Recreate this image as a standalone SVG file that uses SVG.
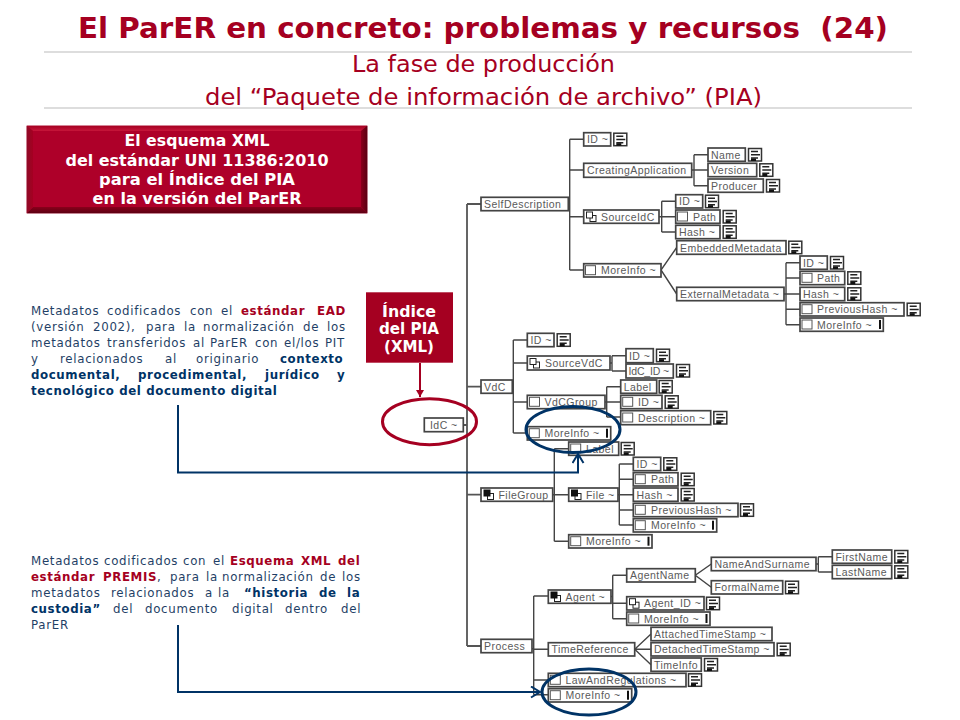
<svg xmlns="http://www.w3.org/2000/svg" width="960" height="720" viewBox="0 0 960 720">
<style>
.b{fill:#fff;stroke:#444;stroke-width:1.7}
.l{font-family:"Liberation Sans",Arial,sans-serif;font-size:10.5px;letter-spacing:.45px;fill:#5a5a5a}
.c{fill:none;stroke:#444;stroke-width:1.4}
.tr{fill:none;stroke:#555;stroke-width:1.8}
.p{font-family:"DejaVu Sans",Verdana,sans-serif;font-size:11.8px;letter-spacing:.7px;fill:#1f3f66}
.p tspan.r{font-weight:bold;fill:#a50021;letter-spacing:.6px}
.p tspan.k{font-weight:bold;fill:#003366;letter-spacing:.6px}
.w{font-family:"DejaVu Sans",Verdana,sans-serif;font-weight:bold;fill:#fff;text-anchor:middle}
.h{font-family:"DejaVu Sans",Tahoma,sans-serif;fill:#a50021}
</style>
<defs>
<g id="doc"><rect x=".5" y=".5" width="13" height="12.5" fill="#fff" stroke="#333" stroke-width="1.5"/><path d="M3 3.5h7M3 6.8h9M3 10h7" stroke="#222" stroke-width="1.5" fill="none"/><rect x="3" y="10.5" width="5" height="2.5" fill="#111"/></g>
<rect id="chk" width="10" height="9" fill="#fff" stroke="#555" stroke-width="1"/>
<g id="cpy"><rect x="3.5" y="3.5" width="6" height="6" fill="#fff" stroke="#222" stroke-width="1"/><rect width="6" height="6" fill="#fff" stroke="#222" stroke-width="1"/></g>
<g id="cpf"><rect x="3.5" y="3.5" width="6" height="6" fill="#fff" stroke="#222" stroke-width="1"/><rect width="6" height="6" fill="#111" stroke="#111" stroke-width="1"/></g>
<rect id="bar" width="2" height="9" fill="#111"/>
<marker id="mb" markerWidth="14" markerHeight="14" refX="10" refY="6" orient="auto" markerUnits="userSpaceOnUse"><path d="M1 0.5L10 6L1 11.5" fill="none" stroke="#003366" stroke-width="2"/></marker>
<marker id="mr" markerWidth="10" markerHeight="10" refX="7" refY="4" orient="auto" markerUnits="userSpaceOnUse"><path d="M0 0L7 4L0 8z" fill="#a50021"/></marker>
<linearGradient id="bt" x1="0" y1="0" x2="0" y2="1"><stop offset="0" stop-color="#a50021"/><stop offset="1" stop-color="#c6163a"/></linearGradient>
<linearGradient id="bb" x1="0" y1="0" x2="0" y2="1"><stop offset="0" stop-color="#8a001b"/><stop offset="1" stop-color="#5a0012"/></linearGradient>
<linearGradient id="bl" x1="0" y1="0" x2="1" y2="0"><stop offset="0" stop-color="#8f0a26"/><stop offset="1" stop-color="#a50021"/></linearGradient>
<linearGradient id="br" x1="0" y1="0" x2="1" y2="0"><stop offset="0" stop-color="#8a001b"/><stop offset="1" stop-color="#5a0012"/></linearGradient>
</defs>
<rect width="960" height="720" fill="#fff"/>
<g id="header">
<text class="h" x="78" y="37.5" font-size="29" font-weight="bold" textLength="810" lengthAdjust="spacingAndGlyphs" xml:space="preserve">El ParER en concreto: problemas y recursos  (24)</text>
<path d="M44 52H912M44 108H912" stroke="#bbb" stroke-width="1"/>
<text class="h" x="352" y="72" font-size="22.5" textLength="263" lengthAdjust="spacingAndGlyphs">La fase de producción</text>
<text class="h" x="205" y="105" font-size="22.5" textLength="557" lengthAdjust="spacingAndGlyphs">del “Paquete de información de archivo” (PIA)</text>
</g>
<g id="schema-box">
<rect x="26.7" y="125.7" width="340.6" height="87.6" fill="#ae0029"/>
<polygon points="26.7,125.7 367.3,125.7 361,131 33,131" fill="url(#bt)"/>
<polygon points="26.7,213.3 367.3,213.3 361,207 33,207" fill="url(#bb)"/>
<polygon points="26.7,125.7 33,131 33,207 26.7,213.3" fill="url(#bl)"/>
<polygon points="367.3,125.7 361,131 361,207 367.3,213.3" fill="url(#br)"/>
<text class="w" x="197" y="146" font-size="16" textLength="145" lengthAdjust="spacingAndGlyphs">El esquema XML</text>
<text class="w" x="197" y="165.5" font-size="16" textLength="263" lengthAdjust="spacingAndGlyphs">del estándar UNI 11386:2010</text>
<text class="w" x="197" y="184.5" font-size="16" textLength="196" lengthAdjust="spacingAndGlyphs">para el Índice del PIA</text>
<text class="w" x="197" y="203.5" font-size="16" textLength="209" lengthAdjust="spacingAndGlyphs">en la versión del ParER</text>
</g>
<g id="index-box">
<rect x="366" y="292.3" width="87" height="70.4" fill="#a50021"/>
<text class="w" x="409" y="317" font-size="15" textLength="54" lengthAdjust="spacingAndGlyphs">Índice</text>
<text class="w" x="409" y="334" font-size="15" textLength="60" lengthAdjust="spacingAndGlyphs">del PIA</text>
<text class="w" x="409" y="352" font-size="15" textLength="50" lengthAdjust="spacingAndGlyphs">(XML)</text>
</g>
<g id="note-ead">
<text class="p" y="315"><tspan x="31">Metadatos </tspan><tspan x="107">codificados </tspan><tspan x="190">con </tspan><tspan x="221">el </tspan><tspan class="r" x="241">estándar </tspan><tspan class="r" x="317">EAD</tspan></text>
<text class="p" y="331"><tspan x="31">(versión </tspan><tspan x="93">2002), </tspan><tspan x="146">para </tspan><tspan x="184">la </tspan><tspan x="203">normalización </tspan><tspan x="303">de </tspan><tspan x="327">los</tspan></text>
<text class="p" y="347"><tspan x="31">metadatos </tspan><tspan x="107">transferidos </tspan><tspan x="193">al </tspan><tspan x="210">ParER </tspan><tspan x="255">con </tspan><tspan x="284">el/los </tspan><tspan x="325">PIT</tspan></text>
<text class="p" y="363"><tspan x="31">y </tspan><tspan x="60">relacionados </tspan><tspan x="165">al </tspan><tspan x="196">originario </tspan><tspan class="k" x="280">contexto</tspan></text>
<text class="p" y="379"><tspan class="k" x="31">documental, </tspan><tspan class="k" x="138">procedimental, </tspan><tspan class="k" x="265">jurídico </tspan><tspan class="k" x="337">y</tspan></text>
<text class="p" y="395"><tspan class="k" x="31">tecnológico del documento digital</tspan></text>
</g>
<g id="note-premis">
<text class="p" y="565"><tspan x="31">Metadatos </tspan><tspan x="104">codificados </tspan><tspan x="183">con </tspan><tspan x="213">el </tspan><tspan class="r" x="230">Esquema </tspan><tspan class="r" x="301">XML </tspan><tspan class="r" x="338">del</tspan></text>
<text class="p" y="581"><tspan class="r" x="31">estándar </tspan><tspan class="r" x="103">PREMIS</tspan><tspan>, </tspan><tspan x="170">para </tspan><tspan x="206">la </tspan><tspan x="222">normalización </tspan><tspan x="320">de </tspan><tspan x="342">los</tspan></text>
<text class="p" y="597"><tspan x="31">metadatos </tspan><tspan x="111">relacionados </tspan><tspan x="205">a </tspan><tspan x="218">la </tspan><tspan class="k" x="244">“historia </tspan><tspan class="k" x="319">de </tspan><tspan class="k" x="347">la</tspan></text>
<text class="p" y="613"><tspan class="k" x="31">custodia” </tspan><tspan x="113">del </tspan><tspan x="145">documento </tspan><tspan x="232">digital </tspan><tspan x="285">dentro </tspan><tspan x="341">del</tspan></text>
<text class="p" y="629"><tspan x="31">ParER</tspan></text>
</g>
<g id="connectors">
<path class="tr" d="M467 204V646M467 204H481M467 646H481M463 425H467M467 386.7H481M467 494.7H481"/>
<path class="c" d="M568.3 204H569.7M569.7 139.3V270M569.7 139.3H583.7M569.7 170H583.7M569.7 216.7H583.7M569.7 270H583.7"/>
<path class="c" d="M691.7 170H708M694 154.7V185.7M694 154.7H708M694 185.7H708"/>
<path class="c" d="M659 216.7H675.7M661.7 201.3V232M661.7 201.3H675.7M661.7 232H675.7"/>
<path class="c" d="M676.7 247.5L661 270L676.7 294"/>
<path class="c" d="M784 294H800M786 262.7V324.7M786 262.7H800M786 278H800M786 309.3H800M786 324.7H800"/>
<path class="c" d="M512.3 386.7H513.3M513.3 340V433M513.3 340H527.3M513.3 363H527.3M513.3 402H527.3M513.3 433H527.3"/>
<path class="c" d="M610 363H612M612 355.7V371M612 355.7H626M612 371H626"/>
<path class="c" d="M605 402H620.7M606.7 386.7V417M606.7 386.7H620.7M606.7 417H620.7"/>
<path class="c" d="M552.7 494.7H568.7M554.3 448.7V541.3M554.3 448.7H568.7M554.3 541.3H568.7"/>
<path class="c" d="M618 494.7H633.3M619.3 464V525M619.3 464H633.3M619.3 479.3H633.3M619.3 510H633.3M619.3 525H633.3"/>
<path class="c" d="M532 648.7H533.7M533.7 596V694.7M533.7 596H548.3M533.7 649.3H548.3M533.7 680H548.3M533.7 694.7H548.3"/>
<path class="c" d="M611 596.5H612.7M612.7 575.3V618.7M612.7 575.3H626.7M612.7 603.3H626.7M612.7 618.7H626.7"/>
<path class="c" d="M711.3 564L695.3 575.3L711.3 587.3"/>
<path class="c" d="M816 564H818.3M818.3 556.7V572M818.3 556.7H832.3M818.3 572H832.3"/>
<path class="c" d="M651 634L634.7 649.3H651M634.7 649.3L651 664.7"/>
</g>
<g id="node-idc"><rect class="b" x="424.3" y="418" width="39" height="13.7"/><text class="l" x="430" y="428.5">IdC ~</text></g>
<g id="node-selfdescription"><rect class="b" x="481" y="197.3" width="87.3" height="13.4"/><text class="l" x="484" y="207.7">SelfDescription</text></g>
<g id="node-sd-id"><rect class="b" x="583.7" y="132.7" width="27" height="13.3"/><text class="l" x="587" y="143">ID ~</text><use href="#doc" x="613.3" y="132.7"/></g>
<g id="node-creatingapplication"><rect class="b" x="583.7" y="163.3" width="108" height="14"/><text class="l" x="587" y="174">CreatingApplication</text></g>
<g id="node-name"><rect class="b" x="708" y="148" width="37.3" height="13.3"/><text class="l" x="711" y="158.5">Name</text><use href="#doc" x="748" y="148"/></g>
<g id="node-version"><rect class="b" x="708" y="163.3" width="48.7" height="13.4"/><text class="l" x="711" y="174">Version</text><use href="#doc" x="759.3" y="163.3"/></g>
<g id="node-producer"><rect class="b" x="708" y="179" width="55.3" height="13.3"/><text class="l" x="711" y="189.5">Producer</text><use href="#doc" x="766" y="179"/></g>
<g id="node-sourceidc"><rect class="b" x="583.7" y="210" width="75.3" height="13.3"/><use href="#cpy" x="586.5" y="212"/><text class="l" x="601" y="220.5">SourceIdC</text></g>
<g id="node-sid-id"><rect class="b" x="675.7" y="194.7" width="27" height="13.3"/><text class="l" x="679" y="205">ID ~</text><use href="#doc" x="705" y="194.7"/></g>
<g id="node-sid-path"><rect class="b" x="675.7" y="210" width="44.3" height="13.3"/><use href="#chk" x="677.5" y="212"/><text class="l" x="693" y="220.5">Path</text><use href="#doc" x="722.7" y="210"/></g>
<g id="node-sid-hash"><rect class="b" x="675.7" y="225.3" width="44.3" height="13.4"/><text class="l" x="679" y="236">Hash ~</text><use href="#doc" x="722.7" y="225.3"/></g>
<g id="node-moreinfo-sd"><rect class="b" x="583.7" y="263.7" width="77.3" height="13.3"/><use href="#chk" x="585.5" y="265.7"/><text class="l" x="601" y="274">MoreInfo ~</text></g>
<g id="node-embeddedmetadata"><rect class="b" x="676.7" y="240.7" width="109.3" height="13.6"/><text class="l" x="680" y="251.5">EmbeddedMetadata</text><use href="#doc" x="788.3" y="240.7"/></g>
<g id="node-externalmetadata"><rect class="b" x="676.7" y="287.3" width="107.3" height="13.4"/><text class="l" x="680" y="298">ExternalMetadata ~</text></g>
<g id="node-em-id"><rect class="b" x="800" y="256" width="27.3" height="13.3"/><text class="l" x="803" y="266.5">ID ~</text><use href="#doc" x="830" y="256"/></g>
<g id="node-em-path"><rect class="b" x="800" y="271.3" width="44.7" height="13.4"/><use href="#chk" x="802" y="273.3"/><text class="l" x="817" y="282">Path</text><use href="#doc" x="847.3" y="271.3"/></g>
<g id="node-em-hash"><rect class="b" x="800" y="287.3" width="44.7" height="13.4"/><text class="l" x="803" y="298">Hash ~</text><use href="#doc" x="847.3" y="287.3"/></g>
<g id="node-em-previoushash"><rect class="b" x="800" y="302.7" width="104" height="13.3"/><use href="#chk" x="802" y="304.7"/><text class="l" x="817" y="313">PreviousHash ~</text><use href="#doc" x="906.7" y="302.7"/></g>
<g id="node-em-moreinfo"><rect class="b" x="800" y="318" width="83.3" height="13.3"/><use href="#chk" x="802" y="320"/><text class="l" x="817" y="328.5">MoreInfo ~</text><use href="#bar" x="879" y="320"/></g>
<g id="node-vdc"><rect class="b" x="481" y="380" width="31.3" height="13.3"/><text class="l" x="484" y="390.5">VdC</text></g>
<g id="node-vdc-id"><rect class="b" x="527.3" y="333.3" width="26.7" height="13.4"/><text class="l" x="530.5" y="344">ID ~</text><use href="#doc" x="556.7" y="333.3"/></g>
<g id="node-sourcevdc"><rect class="b" x="527.3" y="356" width="82.7" height="14"/><use href="#cpy" x="530" y="358.5"/><text class="l" x="545" y="367">SourceVdC</text></g>
<g id="node-svdc-id"><rect class="b" x="626" y="348.7" width="27.3" height="14"/><text class="l" x="629" y="359.5">ID ~</text><use href="#doc" x="656" y="348.7"/></g>
<g id="node-idc-id"><rect class="b" x="626" y="364" width="47.3" height="14"/><text class="l" x="628.5" y="375" textLength="41">IdC_ID ~</text><use href="#doc" x="676" y="364"/></g>
<g id="node-vdcgroup"><rect class="b" x="527.3" y="395.3" width="77.7" height="13.4"/><use href="#chk" x="529.5" y="397.3"/><text class="l" x="544.5" y="406">VdCGroup</text></g>
<g id="node-vg-label"><rect class="b" x="620.7" y="380" width="36" height="13.3"/><text class="l" x="623.7" y="390.5">Label</text><use href="#doc" x="658.7" y="380"/></g>
<g id="node-vg-id"><rect class="b" x="620.7" y="395.3" width="41.3" height="13.4"/><use href="#chk" x="622.7" y="397.3"/><text class="l" x="638" y="406">ID ~</text><use href="#doc" x="664.7" y="395.3"/></g>
<g id="node-vg-description"><rect class="b" x="620.7" y="410.7" width="90" height="14"/><use href="#chk" x="622.7" y="413"/><text class="l" x="638" y="421.5">Description ~</text><use href="#doc" x="713.3" y="411"/></g>
<g id="node-vdc-moreinfo"><rect class="b" x="527.3" y="426.7" width="83.4" height="13.3"/><use href="#chk" x="529.3" y="428.7"/><text class="l" x="544.5" y="437">MoreInfo ~</text><use href="#bar" x="606" y="428.7"/></g>
<g id="node-filegroup"><rect class="b" x="481" y="488" width="71.7" height="13.3"/><use href="#cpf" x="484" y="490"/><text class="l" x="498.5" y="498.5">FileGroup</text></g>
<g id="node-fg-label"><rect class="b" x="568.7" y="442" width="50" height="13.3"/><use href="#chk" x="570.7" y="444"/><text class="l" x="586" y="452.5">Label</text><use href="#doc" x="620.7" y="442"/></g>
<g id="node-file"><rect class="b" x="568.7" y="488" width="49.3" height="13.3"/><use href="#cpf" x="571.5" y="490"/><text class="l" x="586" y="498.5">File ~</text></g>
<g id="node-fg-moreinfo"><rect class="b" x="568.7" y="534.7" width="83.3" height="13.3"/><use href="#chk" x="570.7" y="536.7"/><text class="l" x="586" y="545">MoreInfo ~</text><use href="#bar" x="647.5" y="536.7"/></g>
<g id="node-file-id"><rect class="b" x="633.3" y="457.3" width="27.4" height="13.4"/><text class="l" x="636.5" y="468">ID ~</text><use href="#doc" x="663.3" y="457.3"/></g>
<g id="node-file-path"><rect class="b" x="633.3" y="472.7" width="44.7" height="13.3"/><use href="#chk" x="635.3" y="474.7"/><text class="l" x="651" y="483">Path</text><use href="#doc" x="680.7" y="472.7"/></g>
<g id="node-file-hash"><rect class="b" x="633.3" y="488" width="44.7" height="13.3"/><text class="l" x="636.5" y="498.5">Hash ~</text><use href="#doc" x="680.7" y="488"/></g>
<g id="node-file-previoushash"><rect class="b" x="633.3" y="503.3" width="104.7" height="13.4"/><use href="#chk" x="635.3" y="505.3"/><text class="l" x="651" y="514">PreviousHash ~</text><use href="#doc" x="740" y="503.3"/></g>
<g id="node-file-moreinfo"><rect class="b" x="633.3" y="518.7" width="83.4" height="13.3"/><use href="#chk" x="635.3" y="520.7"/><text class="l" x="651" y="529">MoreInfo ~</text><use href="#bar" x="712" y="520.7"/></g>
<g id="node-process"><rect class="b" x="481" y="639.3" width="51" height="13.4"/><text class="l" x="484" y="650">Process</text></g>
<g id="node-agent"><rect class="b" x="548.3" y="590" width="62.7" height="13.3"/><use href="#cpf" x="551" y="592"/><text class="l" x="565.5" y="600.5">Agent ~</text></g>
<g id="node-agentname"><rect class="b" x="626.7" y="568.7" width="68.6" height="13.3"/><text class="l" x="630" y="579">AgentName</text></g>
<g id="node-agent-id"><rect class="b" x="626.7" y="596.7" width="77.3" height="13.3"/><use href="#cpy" x="629.5" y="598.7"/><text class="l" x="644" y="607">Agent_ID ~</text><use href="#doc" x="706" y="596.7"/></g>
<g id="node-agent-moreinfo"><rect class="b" x="626.7" y="612" width="83.3" height="13.3"/><use href="#chk" x="628.7" y="614"/><text class="l" x="644" y="622.5">MoreInfo ~</text><use href="#bar" x="705.5" y="614"/></g>
<g id="node-nameandsurname"><rect class="b" x="711.3" y="557.3" width="104.7" height="13.4"/><text class="l" x="714.5" y="568">NameAndSurname</text></g>
<g id="node-formalname"><rect class="b" x="711.3" y="580.7" width="71.4" height="13.3"/><text class="l" x="714.5" y="591">FormalName</text><use href="#doc" x="785" y="580.7"/></g>
<g id="node-firstname"><rect class="b" x="832.3" y="550" width="59.4" height="13.3"/><text class="l" x="835.5" y="560.5">FirstName</text><use href="#doc" x="894.3" y="550"/></g>
<g id="node-lastname"><rect class="b" x="832.3" y="565.3" width="59.4" height="13.4"/><text class="l" x="835.5" y="576">LastName</text><use href="#doc" x="894.3" y="565.3"/></g>
<g id="node-timereference"><rect class="b" x="548.3" y="642.7" width="86.4" height="13.3"/><text class="l" x="551.5" y="653">TimeReference</text></g>
<g id="node-attachedtimestamp"><rect class="b" x="651" y="627.3" width="121" height="13.4"/><text class="l" x="654" y="638">AttachedTimeStamp ~</text></g>
<g id="node-detachedtimestamp"><rect class="b" x="651" y="642.7" width="123" height="13.3"/><text class="l" x="654" y="653">DetachedTimeStamp ~</text><use href="#doc" x="776.7" y="642.7"/></g>
<g id="node-timeinfo"><rect class="b" x="651" y="658" width="50.3" height="13.3"/><text class="l" x="654" y="668.5">TimeInfo</text><use href="#doc" x="704" y="658"/></g>
<g id="node-lawandregulations"><rect class="b" x="548.3" y="673.3" width="137.7" height="13.4"/><use href="#chk" x="550.3" y="675.3"/><text class="l" x="565.5" y="684">LawAndRegulations ~</text><use href="#doc" x="688" y="673.3"/></g>
<g id="node-process-moreinfo"><rect class="b" x="548.3" y="688.7" width="83.4" height="13.3"/><use href="#chk" x="550.3" y="690.7"/><text class="l" x="565.5" y="699">MoreInfo ~</text><use href="#bar" x="627" y="690.7"/></g>
<g id="callouts" fill="none">
<path d="M420 363V397" stroke="#a50021" stroke-width="2" marker-end="url(#mr)"/>
<ellipse cx="429.5" cy="421.7" rx="47" ry="23" stroke="#a50021" stroke-width="3"/>
<ellipse cx="573" cy="429.5" rx="47" ry="23" stroke="#003366" stroke-width="3"/>
<ellipse cx="589" cy="692" rx="47" ry="23" stroke="#003366" stroke-width="3"/>
<path d="M178 405V472.5H578V454" stroke="#003366" stroke-width="2" marker-end="url(#mb)"/>
<path d="M178 625V692H540" stroke="#003366" stroke-width="2" marker-end="url(#mb)"/>
</g>
</svg>
